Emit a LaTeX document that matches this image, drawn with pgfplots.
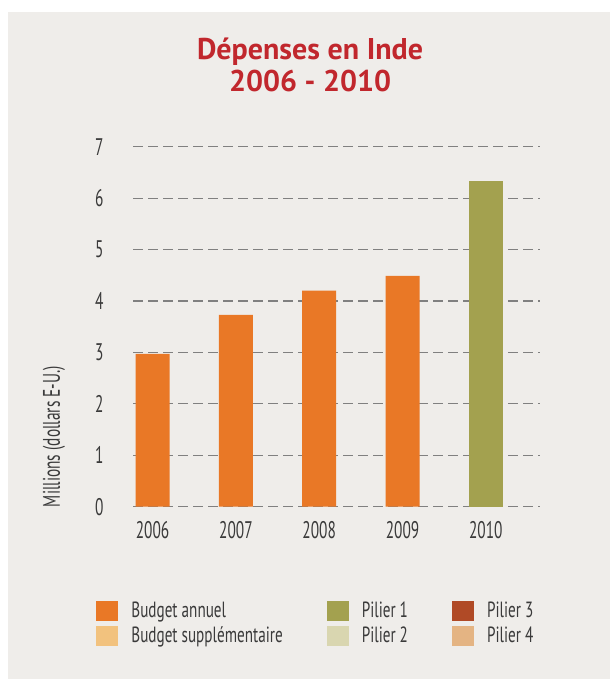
\documentclass[border=0pt]{standalone}
\usepackage{pgfplots}
\pgfplotsset{compat=1.18}
\usepackage{fontspec}
\setmainfont{PT Sans}
\newfontfamily\cond[FakeStretch=0.64]{PT Sans}
\newfontfamily\condl[FakeStretch=0.69]{PT Sans}
\definecolor{bgc}{HTML}{EFEDEA}
\definecolor{orangeC}{HTML}{E97826}
\definecolor{greenC}{HTML}{A3A14F}
\definecolor{pil3}{HTML}{B04A26}
\definecolor{budsup}{HTML}{F2C27E}
\definecolor{pil2}{HTML}{D9D6B0}
\definecolor{pil4}{HTML}{E4B483}
\definecolor{titlec}{HTML}{C1272D}
\definecolor{txt}{HTML}{3A3A3A}
\definecolor{gridc}{HTML}{808080}
\pgfplotsset{legsq/.style={legend image code/.code={\fill (0pt,-5pt) rectangle (11pt,5pt); \path (15.5pt,0pt);}}}
\begin{document}
\begin{tikzpicture}
\fill[white] (0,0) rectangle (305pt,-339.5pt);
\fill[bgc] (4pt,-6pt) rectangle (305pt,-339.5pt);
\begin{axis}[
 at={(66.5pt,-253.35pt)}, anchor=south west,
 scale only axis, width=203.5pt, height=180pt,
 xmin=-0.235, xmax=4.65, ymin=0, ymax=7,
 ytick={0,1,2,3,4,5,6,7}, xtick={0,1,2,3,4},
 xticklabels={2006,2007,2008,2009,2010},
 axis line style={draw=none}, major tick length=0pt,
 ymajorgrids, grid style={draw=gridc, line width=0.6pt, dash pattern=on 5pt off 2.5pt},
 /pgf/number format/assume math mode=true,
 tick label style={font=\cond\fontsize{12}{13}\selectfont, text=txt},
 yticklabel style={anchor=east, inner sep=0pt, xshift=-14.5pt},
 xticklabel style={anchor=center, inner sep=0pt, yshift=-11.7pt},
 ylabel={Millions (dollars E-U.)},
 ylabel style={at={(rel axis cs:-0.194,0.195)}, anchor=center, font=\cond\fontsize{12}{12}\selectfont, text=txt},
 title={Dépenses en Inde\\2006 - 2010},
 title style={at={(rel axis cs:0.435,1.193)}, anchor=center, align=center, font=\bfseries\fontsize{15}{16}\selectfont, text=titlec},
 legend columns=2, transpose legend,
 legend style={at={(rel axis cs:-0.0909,-0.252)}, anchor=north west, draw=none, fill=none, inner sep=0pt,
   font=\condl\fontsize{11}{12}\selectfont, text=txt, row sep=-1pt,
   /tikz/every even column/.append style={column sep=20pt}},
 legend cell align=left,
]
\addplot[ybar, bar width=17pt, bar shift=0pt, fill=orangeC, draw=none, forget plot] coordinates {(0,2.97)(1,3.73)(2,4.20)(3,4.49)};
\addplot[ybar, bar width=17pt, bar shift=0pt, fill=greenC, draw=none, forget plot] coordinates {(4,6.34)};
\addlegendimage{legsq, fill=orangeC, draw=none}
\addlegendentry{Budget annuel}
\addlegendimage{legsq, fill=budsup, draw=none}
\addlegendentry{Budget supplémentaire}
\addlegendimage{legsq, fill=greenC, draw=none}
\addlegendentry{Pilier 1}
\addlegendimage{legsq, fill=pil2, draw=none}
\addlegendentry{Pilier 2}
\addlegendimage{legsq, fill=pil3, draw=none}
\addlegendentry{Pilier 3}
\addlegendimage{legsq, fill=pil4, draw=none}
\addlegendentry{Pilier 4}
\end{axis}
\pgfresetboundingbox
\useasboundingbox (0,0) rectangle (305pt,-339.5pt);
\end{tikzpicture}
\end{document}
